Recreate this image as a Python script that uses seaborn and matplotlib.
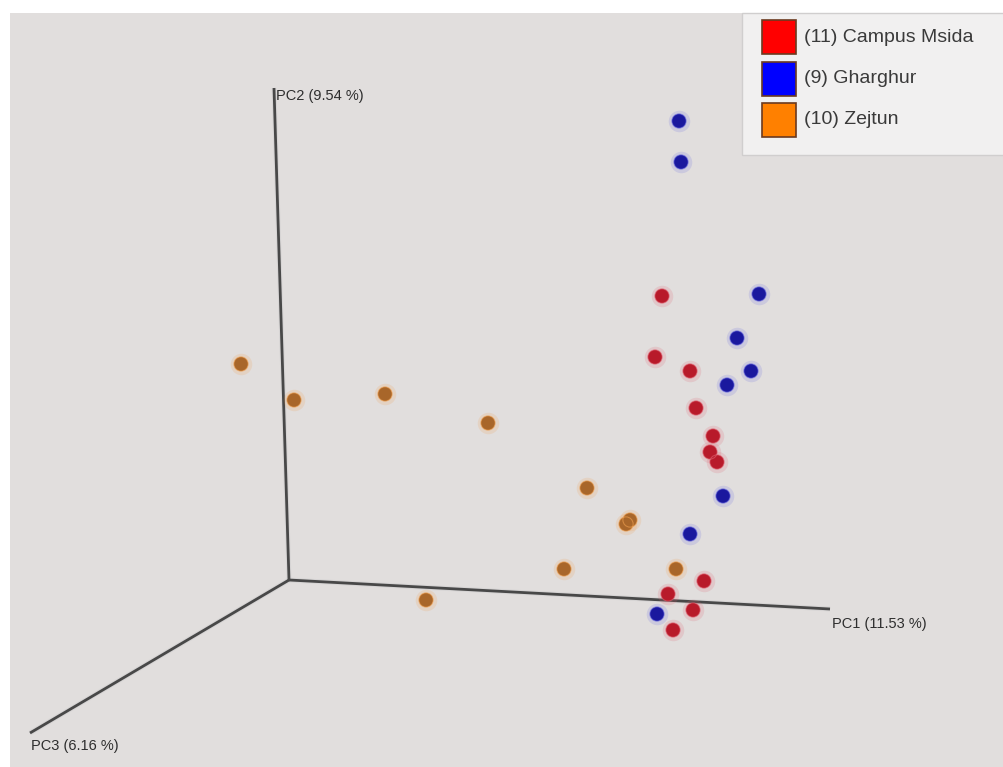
import matplotlib
matplotlib.use("Agg")
import matplotlib.pyplot as plt
from matplotlib.patches import Rectangle
import pandas as pd
import seaborn as sns

# Projected PCoA scores (screen-space positions of the 3D ordination)
campus_x = [662, 655, 690, 696, 713, 710, 717, 704, 668, 693, 673]
campus_y = [296, 357, 371, 408, 436, 452, 462, 581, 594, 610, 630]
gharghur_x = [679, 681, 759, 737, 751, 727, 723, 690, 657]
gharghur_y = [121, 162, 294, 338, 371, 385, 496, 534, 614]
zejtun_x = [241, 294, 385, 488, 587, 626, 630, 564, 676, 426]
zejtun_y = [364, 400, 394, 423, 488, 524, 520, 569, 569, 600]

groups = ["(11) Campus Msida", "(9) Gharghur", "(10) Zejtun"]
fill_colors = ["#b81a2a", "#1a189e", "#a8662a"]
legend_colors = ["#ff0000", "#0000ff", "#ff8000"]
edge_colors = ["#e06070", "#6a6ae0", "#f0a050"]

axis_labels = ["PC1 (11.53 %)", "PC2 (9.54 %)", "PC3 (6.16 %)"]

df = pd.DataFrame({
    "x": campus_x + gharghur_x + zejtun_x,
    "y": campus_y + gharghur_y + zejtun_y,
    "group": [groups[0]] * len(campus_x) + [groups[1]] * len(gharghur_x)
             + [groups[2]] * len(zejtun_x),
})

sns.set_theme(style="white")
plt.rcParams["font.family"] = ["Liberation Sans", "DejaVu Sans"]

fig = plt.figure(figsize=(10.04, 7.67), dpi=100, facecolor="white")
ax = fig.add_axes([0, 0, 1, 1])
ax.set_xlim(0, 1004)
ax.set_ylim(767, 0)
ax.axis("off")

# Plot panel background
ax.add_patch(Rectangle((10, 13), 1000, 760, facecolor="#e1dedd", edgecolor="none", zorder=0))

# 3D axis frame
origin = (289, 580)
ends = {"PC1": (830, 609), "PC2": (274, 88), "PC3": (30, 733)}
for end in ends.values():
    ax.plot([origin[0], end[0]], [origin[1], end[1]], color="#d6d4d4", lw=3.5,
            solid_capstyle="butt", zorder=1)
    ax.plot([origin[0], end[0]], [origin[1], end[1]], color="#484848", lw=2.0,
            solid_capstyle="butt", zorder=2)

label_kw = dict(fontsize=10.5, color="#2e2e2e", va="center", ha="left")
ax.text(832, 624, axis_labels[0], **label_kw)
ax.text(276, 96, axis_labels[1], **label_kw)
ax.text(31, 746, axis_labels[2], **label_kw)

# Soft glow behind each sample, then the sample itself
for g, ec in zip(groups, edge_colors):
    sub = df[df["group"] == g]
    ax.scatter(sub["x"], sub["y"], s=240, color=ec, alpha=0.18, linewidths=0, zorder=3)

sns.scatterplot(data=df, x="x", y="y", hue="group", hue_order=groups,
                palette=dict(zip(groups, fill_colors)), s=105,
                edgecolor=None, linewidth=0, legend=False, ax=ax, zorder=4)
for g, ec in zip(groups, edge_colors):
    sub = df[df["group"] == g]
    ax.scatter(sub["x"], sub["y"], s=105, facecolor="none", edgecolor=ec,
               linewidths=0.8, alpha=0.6, zorder=5)
ax.set_xlim(0, 1004)
ax.set_ylim(767, 0)

# Legend box
ax.add_patch(Rectangle((742, 13), 270, 142, facecolor="#f1f0f0", edgecolor="#d0cece",
                       lw=1, zorder=6))
for i, (g, c) in enumerate(zip(groups, legend_colors)):
    top = 20 + i * 41.5
    ax.add_patch(Rectangle((762, top), 34, 34, facecolor=c, edgecolor="#6b3a20",
                           lw=1.2, zorder=7))
    ax.text(804, top + 17, g, fontsize=14, color="#3a3a3a", va="center", ha="left",
            zorder=7)

fig.savefig("out.png", dpi=100, facecolor="white")
